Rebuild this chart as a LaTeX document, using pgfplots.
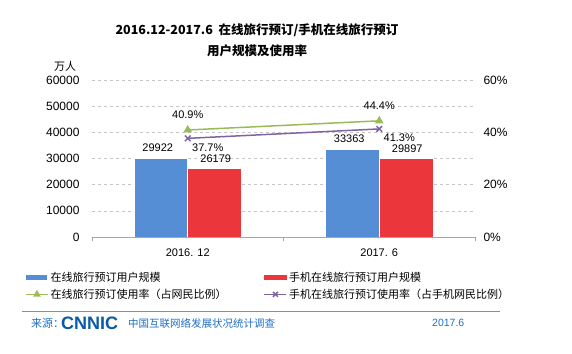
\documentclass[border=0pt]{standalone}
\usepackage{fontspec}
\setmainfont{Liberation Sans}
\newfontfamily\cjk{Noto Sans CJK SC}
\usepackage{pgfplots}
\usepackage{pgfplotstable}
\pgfplotsset{compat=1.18}
\definecolor{cblue}{RGB}{85,142,213}
\definecolor{cred}{RGB}{235,55,60}
\definecolor{cgreen}{RGB}{155,187,89}
\definecolor{cpurple}{RGB}{128,100,162}
\definecolor{fblue}{RGB}{30,110,200}
\definecolor{lblue}{RGB}{91,155,213}
\definecolor{logoblue}{RGB}{10,90,170}
\pgfplotsset{linelegend/.style={legend image code/.code={\draw[mark repeat=2,mark phase=2,##1] plot coordinates {(0bp,0bp) (11bp,0bp) (22bp,0bp)};}}}

\pgfplotstableread{
x users mobile
0 29922 26179
1 33363 29897
}\bars
\pgfplotstableread{
x rate mrate
0 40.9 37.7
1 44.4 41.3
}\rates

\begin{document}
\begin{tikzpicture}
\path[use as bounding box] (0,0) rectangle (572bp,354bp);
\pgfplotsset{/pgf/number format/.cd, set thousands separator={}, assume math mode=true}
\begin{axis}[
  at={(92bp,117bp)}, anchor=south west, scale only axis,
  width=383bp, height=157bp,
  xmin=-0.5, xmax=1.5, ymin=0, ymax=60000,
  axis x line*=bottom, axis y line*=left,
  x axis line style={gray!70, -}, y axis line style={draw=none},
  xtick={-0.5,0.5,1.5}, xticklabels={}, tick align=outside,
  x tick style={gray!70}, major tick length=4bp,
  extra x ticks={0,1}, extra x tick labels={2016. 12,2017. 6},
  extra x tick style={major tick length=0pt, grid=none,
     tick label style={font=\fontsize{11bp}{13bp}\selectfont, yshift=-8bp}},
  ytick={0,10000,...,60000}, scaled y ticks=false,
  y tick style={draw=none},
  yticklabel style={font=\fontsize{12bp}{14bp}\selectfont, xshift=-5bp},
  ymajorgrids, grid style={gray!45, dash pattern=on 3bp off 3bp},
  legend columns=2,
  legend style={at={(-0.1828,-0.197)}, anchor=north west, draw=none, fill=none,
    font=\cjk\fontsize{11bp}{13bp}\selectfont, row sep=2bp, cells={anchor=west},
    /tikz/every even column/.append style={column sep=35bp}},
]
\addplot[ybar, bar width=0.28, bar shift=-0.14, fill=cblue, draw=white, line width=0.6bp,
  nodes near coords,
  nodes near coords style={font=\fontsize{11bp}{13bp}\selectfont, text=black, anchor=center, yshift=11bp, xshift=-30bp},
  legend image code/.code={\fill[cblue] (0bp,-2bp) rectangle (20bp,2bp);}]
  table[x=x,y=users]{\bars};
\addlegendentry{在线旅行预订用户规模}
\addplot[ybar, bar width=0.28, bar shift=0.14, fill=cred, draw=white, line width=0.6bp,
  nodes near coords,
  nodes near coords style={font=\fontsize{11bp}{13bp}\selectfont, text=black, anchor=center, yshift=10bp, xshift=28bp},
  legend image code/.code={\fill[cred] (0bp,-2bp) rectangle (22bp,2bp);}]
  table[x=x,y=mobile]{\bars};
\addlegendentry{手机在线旅行预订用户规模}
\addlegendimage{cgreen, line width=1.5bp, mark=triangle*, mark size=3bp, linelegend}
\addlegendentry{在线旅行预订使用率（占网民比例）}
\addlegendimage{cpurple, line width=1.5bp, mark=x, mark size=3.5bp, linelegend}
\addlegendentry{手机在线旅行预订使用率（占手机网民比例）}
\end{axis}
\begin{axis}[
  at={(92bp,117bp)}, anchor=south west, scale only axis,
  width=383bp, height=157bp,
  xmin=-0.5, xmax=1.5, ymin=0, ymax=60,
  axis x line=none, axis y line*=right, y axis line style={draw=none},
  ytick={0,20,40,60}, y tick style={draw=none},
  yticklabel={\pgfmathprintnumber{\tick}\%},
  yticklabel style={font=\fontsize{12bp}{14bp}\selectfont, xshift=5bp},
]
\addplot[cgreen, line width=1.5bp, mark=triangle*, mark size=3.5bp,
  nodes near coords={\pgfmathprintnumber[fixed,precision=1,fixed zerofill]{\pgfplotspointmeta}\%},
  nodes near coords style={font=\fontsize{11bp}{13bp}\selectfont, text=black, anchor=center, yshift=15bp}]
  table[x=x,y=rate]{\rates};
\addplot[cpurple, line width=1.5bp, mark=x, mark size=4bp,
  nodes near coords={\pgfmathprintnumber[fixed,precision=1,fixed zerofill]{\pgfplotspointmeta}\%},
  nodes near coords style={font=\fontsize{11bp}{13bp}\selectfont, text=black, anchor=center, xshift=20bp, yshift=-9bp}]
  table[x=x,y=mrate]{\rates};
\end{axis}
\node[font=\cjk\bfseries\fontsize{12.5bp}{15bp}\selectfont] at (257bp,324bp) {2016.12-2017.6\ \ 在线旅行预订/手机在线旅行预订};
\node[font=\cjk\bfseries\fontsize{12.5bp}{15bp}\selectfont] at (257bp,303bp) {用户规模及使用率};
\node[font=\cjk\fontsize{11bp}{13bp}\selectfont] at (65bp,288bp) {万人};
\draw[lblue, line width=1bp] (22bp,42bp) -- (500bp,42bp);
\node[anchor=west, text=fblue, font=\cjk\fontsize{11bp}{13bp}\selectfont, inner sep=0pt] at (31bp,31bp) {来源：};
\node[anchor=west, text=logoblue, font=\bfseries\fontsize{18bp}{20bp}\selectfont, inner sep=0pt] at (61bp,31bp) {CNNIC};
\node[anchor=west, text=fblue, font=\cjk\fontsize{10.5bp}{13bp}\selectfont, inner sep=0pt] at (128bp,31bp) {中国互联网络发展状况统计调查};
\node[anchor=west, text=fblue, font=\fontsize{10.5bp}{13bp}\selectfont, inner sep=0pt] at (432bp,31bp) {2017.6};
\end{tikzpicture}
\end{document}
